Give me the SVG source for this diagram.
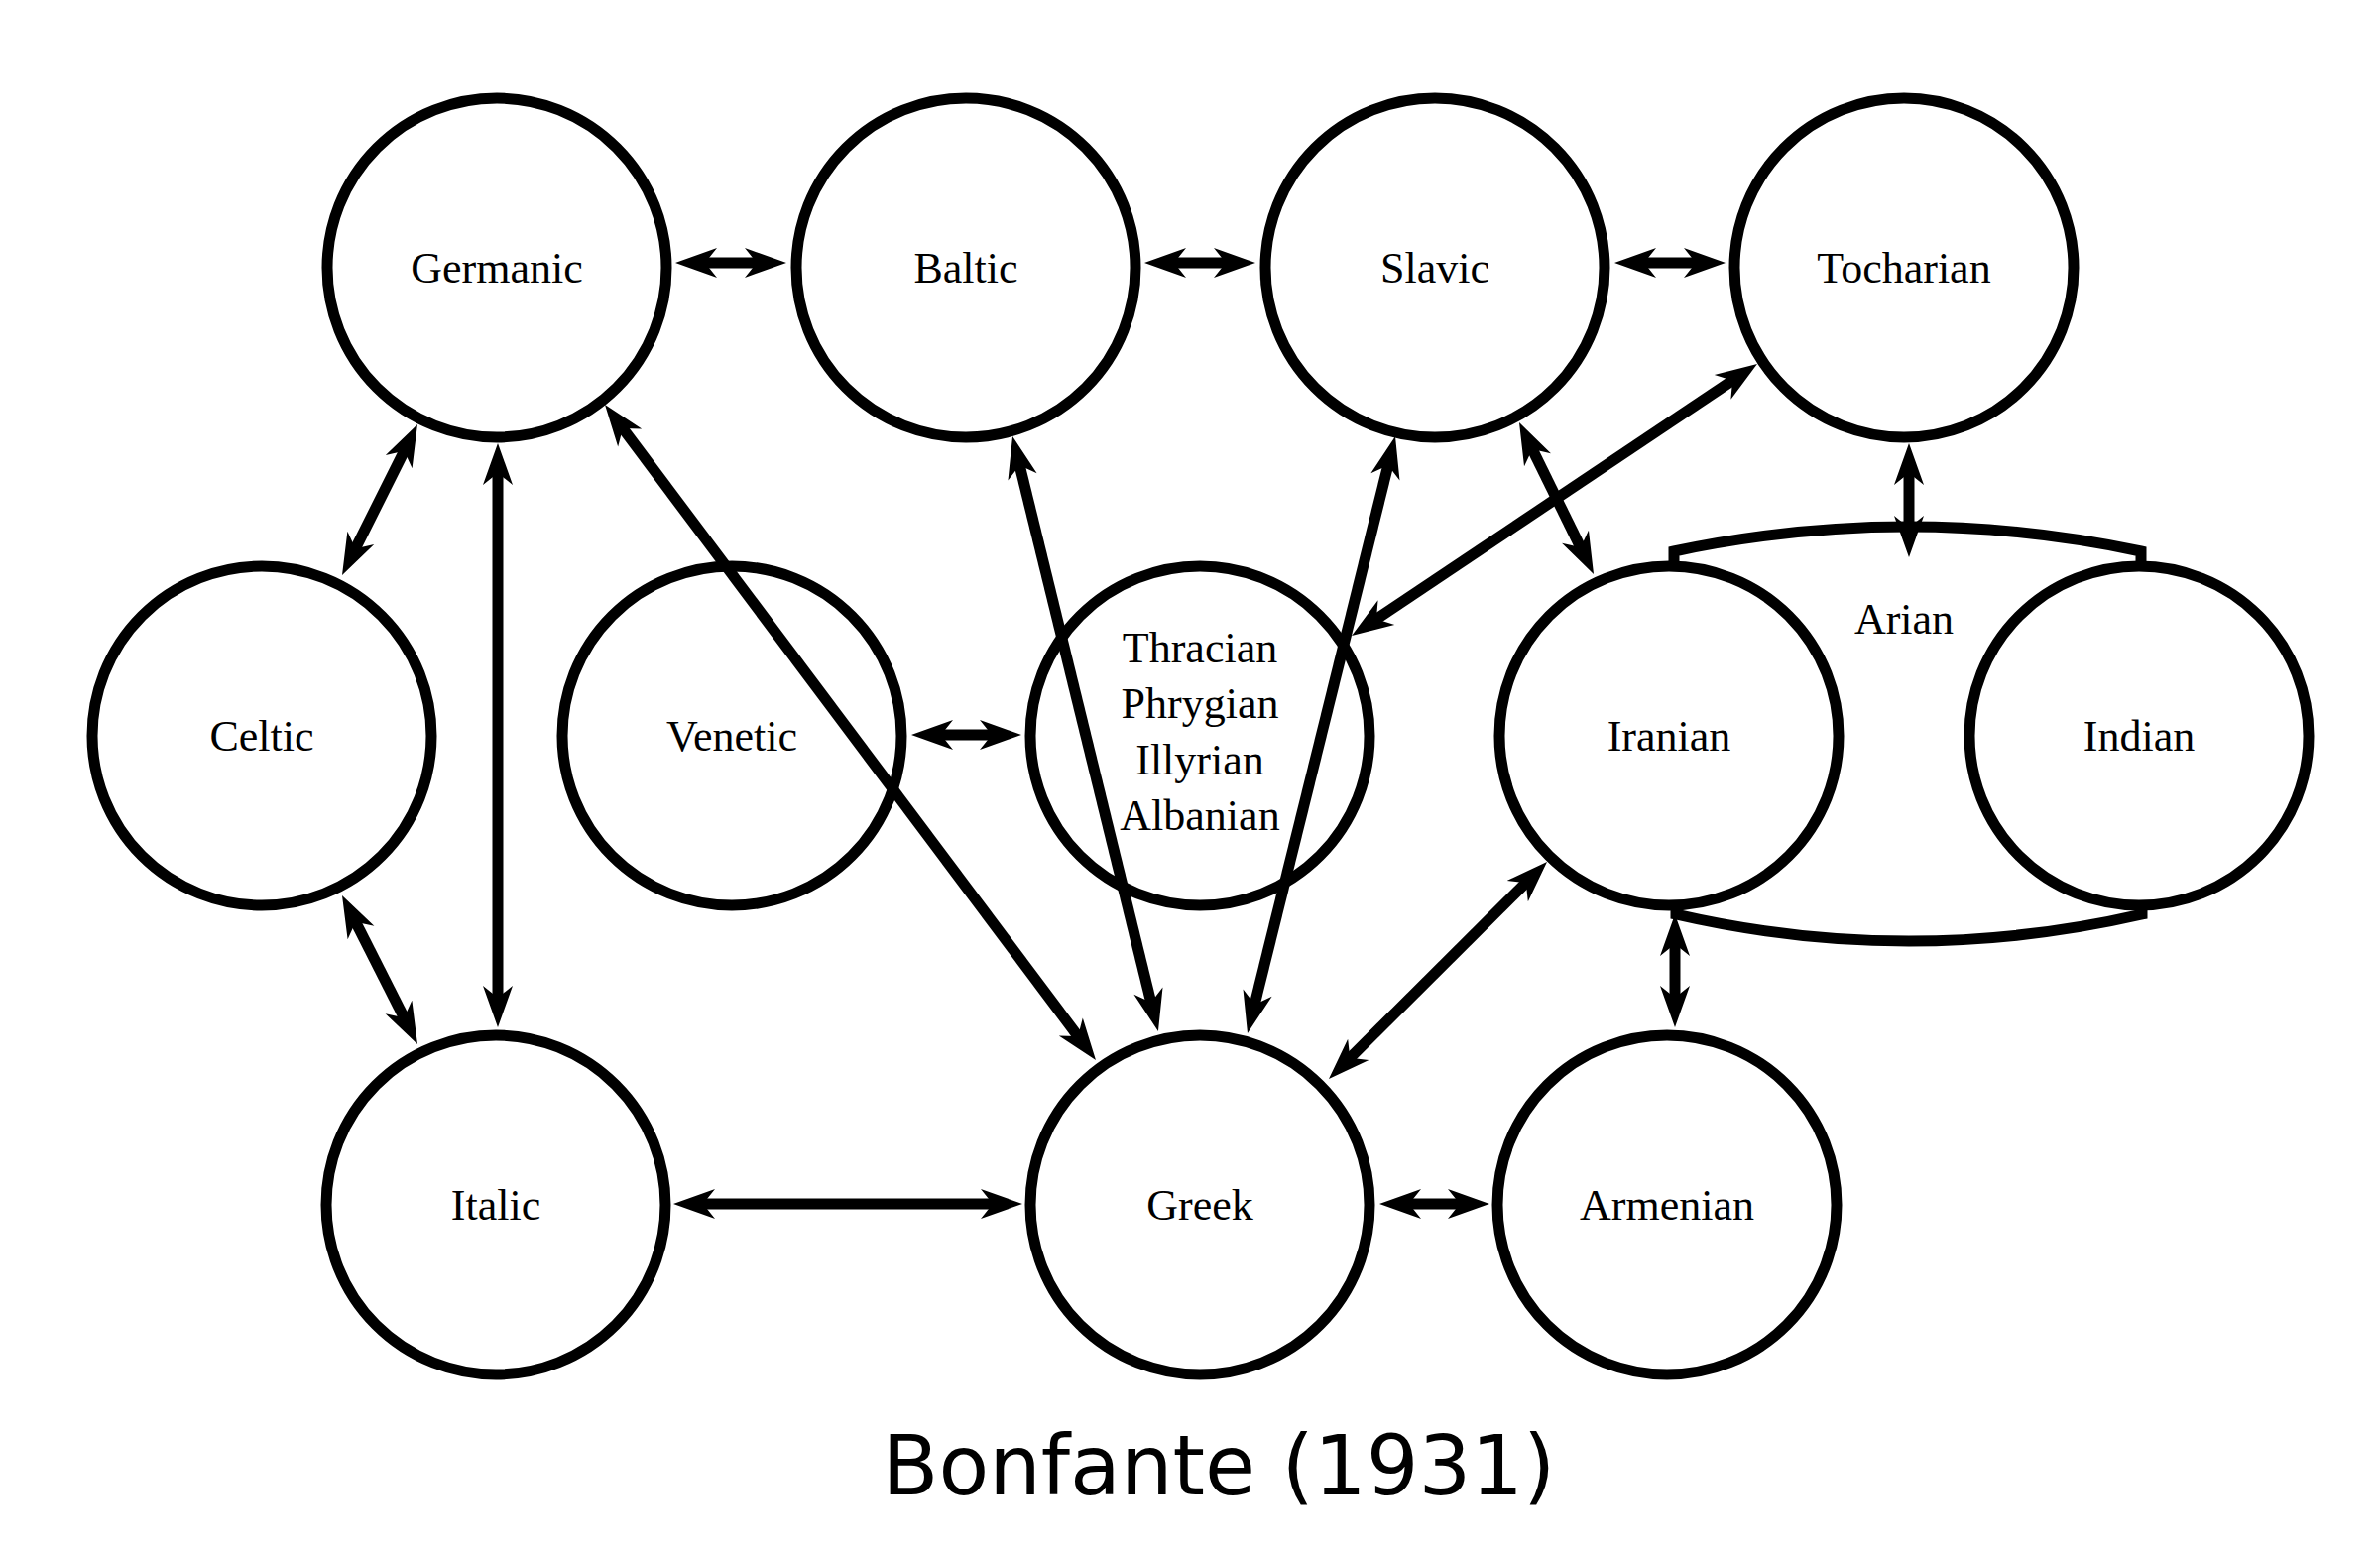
<svg xmlns="http://www.w3.org/2000/svg" width="2400" height="1562" viewBox="0 0 2400 1562">
<style>
.n{fill:none;stroke:#000;stroke-width:11}
.t{font-family:"Liberation Serif","Times New Roman",serif;font-size:44px;fill:#000;text-anchor:middle}
.c{fill:none;stroke:#000;stroke-width:11;marker-start:url(#ah);marker-end:url(#ah)}
.arc{fill:none;stroke:#000;stroke-width:11}
.title{font-family:"DejaVu Sans",sans-serif;font-size:83px;fill:#000;text-anchor:middle}
</style>
<defs>
<marker id="ah" markerUnits="userSpaceOnUse" viewBox="-20 -16 50 32" refX="0" refY="0" markerWidth="50" markerHeight="32" orient="auto-start-reverse">
<path d="M25 0 L-17 -15 L-5 0 L-17 15 Z" fill="#000"/>
</marker>
</defs>
<rect width="2400" height="1562" fill="#fff"/>
<g id="germanic"><circle class="n" cx="501" cy="270" r="171"/><text class="t" x="501" y="285">Germanic</text></g>
<g id="baltic"><circle class="n" cx="974" cy="270" r="171"/><text class="t" x="974" y="285">Baltic</text></g>
<g id="slavic"><circle class="n" cx="1447" cy="270" r="171"/><text class="t" x="1447" y="285">Slavic</text></g>
<g id="tocharian"><circle class="n" cx="1920" cy="270" r="171"/><text class="t" x="1920" y="285">Tocharian</text></g>
<g id="celtic"><circle class="n" cx="264" cy="742" r="171"/><text class="t" x="264" y="757">Celtic</text></g>
<g id="venetic"><circle class="n" cx="738" cy="742" r="171"/><text class="t" x="738" y="757">Venetic</text></g>
<g id="thracian"><circle class="n" cx="1210" cy="742" r="171"/>
<text class="t" x="1210" y="668">Thracian</text>
<text class="t" x="1210" y="724">Phrygian</text>
<text class="t" x="1210" y="781">Illyrian</text>
<text class="t" x="1210" y="837">Albanian</text></g>
<g id="arian">
<path class="arc" d="M1688 567 L1688 556 Q1924 506 2159 556 L2159 567"/>
<path class="arc" d="M1690 915 L1690 922 Q1925 976 2160 922 L2160 915"/>
<text class="t" x="1920" y="639">Arian</text>
</g>
<g id="iranian"><circle class="n" cx="1683" cy="742" r="171"/><text class="t" x="1683" y="757">Iranian</text></g>
<g id="indian"><circle class="n" cx="2157" cy="742" r="171"/><text class="t" x="2157" y="757">Indian</text></g>
<g id="italic"><circle class="n" cx="500" cy="1215" r="171"/><text class="t" x="500" y="1230">Italic</text></g>
<g id="greek"><circle class="n" cx="1210" cy="1215" r="171"/><text class="t" x="1210" y="1230">Greek</text></g>
<g id="armenian"><circle class="n" cx="1681" cy="1215" r="171"/><text class="t" x="1681" y="1230">Armenian</text></g>
<g id="connectors">
<line class="c" x1="706" y1="265" x2="768" y2="265"/>
<line class="c" x1="1179" y1="265" x2="1241" y2="265"/>
<line class="c" x1="1653" y1="265" x2="1715" y2="265"/>
<line class="c" x1="1925" y1="472" x2="1925" y2="537"/>
<line class="c" x1="409.8" y1="450.4" x2="356.2" y2="557.6"/>
<line class="c" x1="502" y1="472" x2="502" y2="1011"/>
<line class="c" x1="356.3" y1="925.3" x2="409.7" y2="1030.7"/>
<line class="c" x1="625" y1="428" x2="1090" y2="1049"/>
<line class="c" x1="1027" y1="464.3" x2="1162" y2="1015.7"/>
<line class="c" x1="1401" y1="464.3" x2="1264" y2="1017.7"/>
<line class="c" x1="1543" y1="448.5" x2="1596" y2="556.5"/>
<line class="c" x1="1751.2" y1="380.9" x2="1383.8" y2="627.1"/>
<line class="c" x1="944" y1="741" x2="1005" y2="741"/>
<line class="c" x1="1542.3" y1="886.6" x2="1357.7" y2="1070.4"/>
<line class="c" x1="1689" y1="947" x2="1689" y2="1011"/>
<line class="c" x1="704" y1="1214" x2="1006" y2="1214"/>
<line class="c" x1="1416" y1="1214" x2="1477" y2="1214"/>
</g>
<text class="title" x="1229" y="1507">Bonfante (1931)</text>
</svg>
